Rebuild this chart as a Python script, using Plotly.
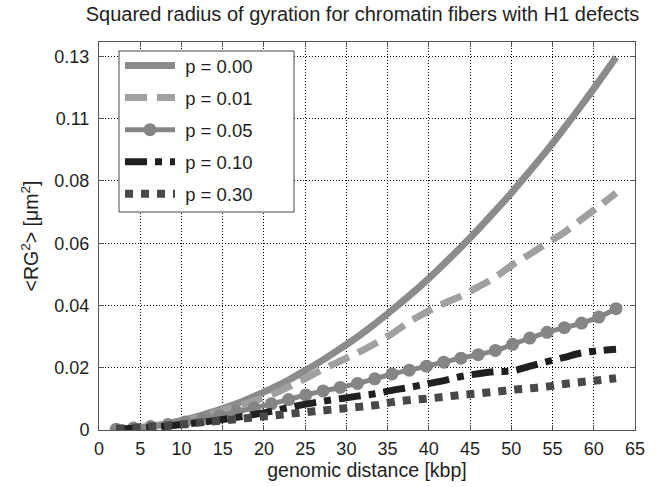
import plotly.graph_objects as go

# genomic distance (kbp) at which values were read
distance_kbp = [2.09, 4.18, 6.27, 8.36, 10.45, 12.54, 14.63, 16.72, 18.81, 20.9,
                22.99, 25.08, 27.17, 29.26, 31.35, 33.44, 35.53, 37.62, 39.71, 41.8,
                43.89, 45.98, 48.07, 50.16, 52.25, 54.34, 56.43, 58.52, 60.61, 62.7]

rg2_p000 = [0.00014, 0.00058, 0.0013, 0.0023, 0.0036, 0.0052, 0.0071, 0.0092, 0.0117, 0.0144,
            0.0174, 0.0208, 0.0244, 0.0283, 0.0324, 0.0369, 0.0417, 0.0467, 0.0520, 0.0577,
            0.0636, 0.0698, 0.0763, 0.0830, 0.0901, 0.0974, 0.1051, 0.1130, 0.1212, 0.1297]
rg2_p001 = [0.0002, 0.0006, 0.0012, 0.0021, 0.0033, 0.0047, 0.0065, 0.0083, 0.0101, 0.0122,
            0.0150, 0.0180, 0.0212, 0.0240, 0.0268, 0.0300, 0.0335, 0.0376, 0.0410, 0.0440,
            0.0466, 0.0498, 0.0532, 0.0575, 0.0612, 0.0650, 0.0688, 0.0733, 0.0778, 0.0825]
rg2_p005 = [0.0003, 0.0007, 0.0012, 0.0019, 0.0028, 0.0038, 0.0050, 0.0063, 0.0077, 0.0091,
            0.0106, 0.0122, 0.0136, 0.0148, 0.0162, 0.0178, 0.0195, 0.0208, 0.0222, 0.0236,
            0.0250, 0.0262, 0.0277, 0.0298, 0.0320, 0.0340, 0.0356, 0.0372, 0.0393, 0.0422]
rg2_p010 = [0.0003, 0.0006, 0.0009, 0.0014, 0.0020, 0.0027, 0.0035, 0.0044, 0.0054, 0.0065,
            0.0078, 0.0090, 0.0100, 0.0109, 0.0118, 0.0126, 0.0138, 0.0148, 0.0160, 0.0172,
            0.0186, 0.0196, 0.0203, 0.0206, 0.0222, 0.0238, 0.0253, 0.0268, 0.0276, 0.0281]
rg2_p030 = [0.0004, 0.0008, 0.0012, 0.0016, 0.0021, 0.0027, 0.0032, 0.0038, 0.0044, 0.0050,
            0.0056, 0.0062, 0.0068, 0.0074, 0.0080, 0.0086, 0.0097, 0.0104, 0.0109, 0.0115,
            0.0122, 0.0127, 0.0133, 0.0140, 0.0145, 0.0151, 0.0160, 0.0167, 0.0173, 0.0180]

series_names = ["p = 0.00", "p = 0.01", "p = 0.05", "p = 0.10", "p = 0.30"]

x_ticks = [0, 5, 10, 15, 20, 25, 30, 35, 40, 45, 50, 55, 60, 65]
y_tick_vals = [0, 0.021667, 0.043333, 0.065, 0.086667, 0.108333, 0.13]
y_tick_text = ["0", "0.02", "0.04", "0.06", "0.08", "0.11", "0.13"]

FONT = "Liberation Sans, Arial, Helvetica, sans-serif"
TXT = "#1e1e1e"

styles = [
    dict(color="#8b8b8b", width=7, dash="solid", marker=False),
    dict(color="#a0a0a0", width=7, dash="22px,10px", marker=False),
    dict(color="#858585", width=5, dash="solid", marker=True),
    dict(color="#202020", width=7, dash="22px,8px,7px,8px", marker=False),
    dict(color="#484848", width=8, dash="8px,8px", marker=False),
]
data = [rg2_p000, rg2_p001, rg2_p005, rg2_p010, rg2_p030]

fig = go.Figure()
for name, y, st in zip(series_names, data, styles):
    fig.add_trace(go.Scatter(
        x=distance_kbp, y=y, name="\u00a0" + name, legendgroup=name,
        mode="lines+markers" if st["marker"] else "lines",
        line=dict(color=st["color"], width=st["width"], dash=st["dash"], shape="spline"),
        marker=dict(size=13, color=st["color"], symbol="circle") if st["marker"] else None,
    ))

axis_common = dict(
    showline=True, linecolor="#555555", linewidth=1, mirror="ticks",
    ticks="inside", ticklen=5, tickcolor="#555555",
    showgrid=True, gridcolor="#000000", gridwidth=1, griddash="1px,2px",
    zeroline=False, tickfont=dict(family=FONT, size=18, color=TXT),
)

fig.update_xaxes(range=[0, 65], tickvals=x_ticks, ticklabelstandoff=2,
                 title=dict(text="genomic distance [kbp]", font=dict(family=FONT, size=19.5, color=TXT), standoff=4),
                 **axis_common)
fig.update_yaxes(range=[0, 0.135], tickvals=y_tick_vals, ticktext=y_tick_text, ticklabelstandoff=5,
                 title=dict(text="&lt;RG<sup>2</sup>&gt; [μm<sup>2</sup>]", font=dict(family=FONT, size=19.5, color=TXT), standoff=10),
                 **axis_common)

# legend frame (pixel box 119..294 x 51..212 inside plot area 99..635 x 42..430)
fig.add_shape(type="rect", xref="paper", yref="paper",
              x0=(119 - 99) / 536, x1=(294 - 99) / 536,
              y0=1 - (212 - 42) / 388, y1=1 - (51 - 42) / 388,
              line=dict(color="#444444", width=1), fillcolor="white", layer="above")

fig.update_layout(
    width=663, height=487,
    margin=dict(l=99, r=28, t=42, b=57),
    paper_bgcolor="white", plot_bgcolor="white",
    title=dict(text="Squared radius of gyration for chromatin fibers with H1 defects",
               font=dict(family=FONT, size=20, color=TXT),
               x=0.4916, xref="paper", xanchor="center",
               y=1 - 14 / 487, yref="container", yanchor="middle"),
    legend=dict(x=(120 - 99) / 536, y=1 - (47 - 42) / 388, xanchor="left", yanchor="top",
                bgcolor="rgba(0,0,0,0)", borderwidth=0,
                font=dict(family=FONT, size=18.5, color=TXT),
                tracegroupgap=5, itemwidth=50),
    showlegend=True,
)

fig.write_html("out.html")
